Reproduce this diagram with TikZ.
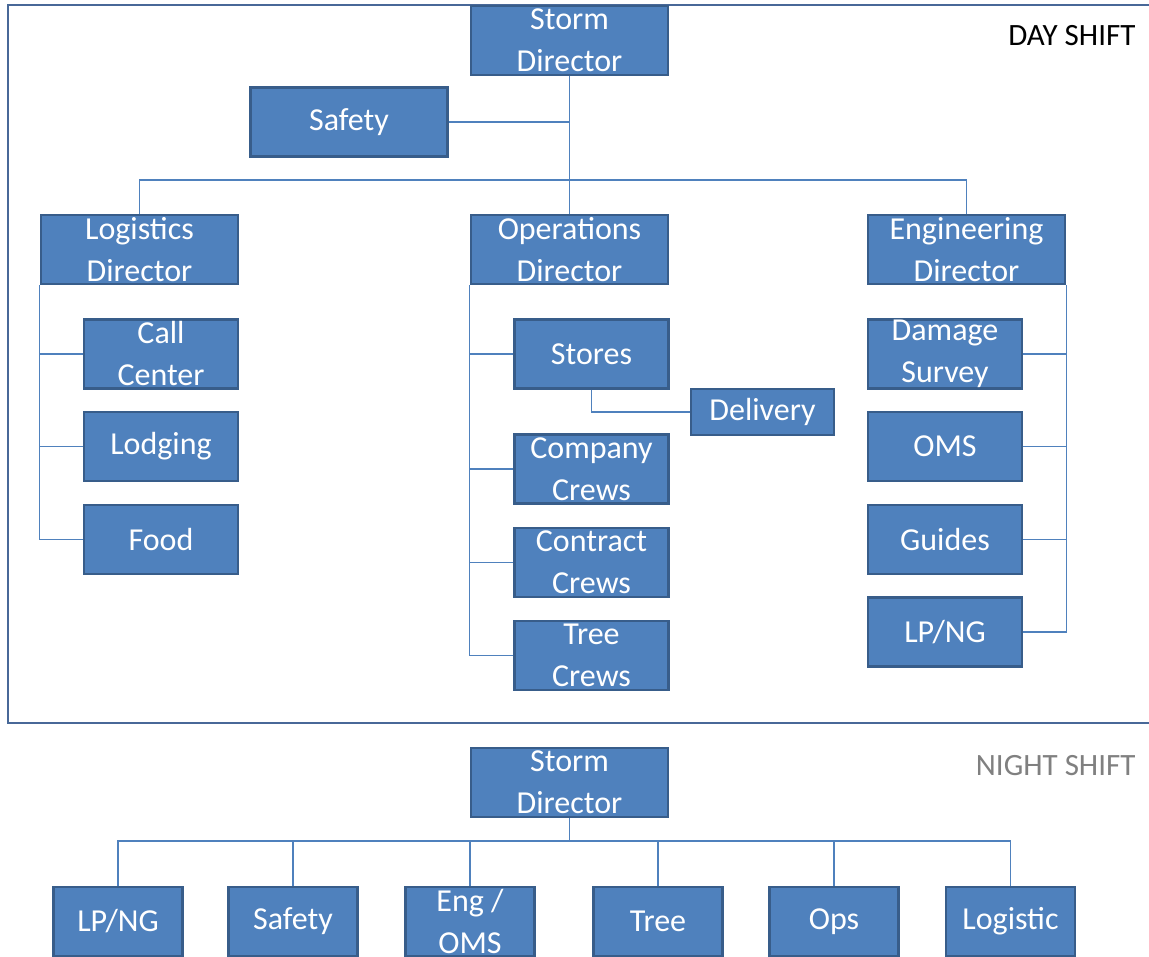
\documentclass[tikz,border=0pt]{standalone}
\usepackage{fontspec}
\setmainfont{Carlito}
\definecolor{boxfill}{RGB}{79,129,189}
\definecolor{boxline}{RGB}{56,93,138}
\definecolor{framecol}{RGB}{72,104,152}
\tikzstyle{role} = [rectangle, draw=boxline, line width=2.5pt, fill=boxfill, text=white, align=center, inner sep=0pt, font=\fontsize{32}{42}\selectfont]
\tikzstyle{dirbox} = [role, minimum width=197pt, minimum height=69pt]
\tikzstyle{unitbox} = [role, minimum width=154pt, minimum height=69pt]
\tikzstyle{nightbox} = [role, minimum width=129pt, minimum height=69pt]
\tikzstyle{link} = [draw=boxfill, line width=1.2pt]
\tikzstyle{shiftlabel} = [anchor=east, font=\fontsize{31}{36}\selectfont]

\begin{document}
\begin{tikzpicture}[x=1pt, y=-1pt]
\clip (0,0) rectangle (1149,957);

% Day shift frame
\draw[framecol, line width=2pt] (8,5) rectangle (1175,723);
\node[shiftlabel] (dayshift) at (1139,36) {DAY SHIFT};

% Top of the day shift
\node[dirbox] (storm) at (569.5,40.5) {Storm\\Director};
\node[dirbox] (safety) at (349,122) {Safety};
\node[dirbox] (logi) at (139.5,249.5) {Logistics\\Director};
\node[dirbox] (ops) at (569.5,249.5) {Operations\\Director};
\node[dirbox] (eng) at (966.5,249.5) {Engineering\\Director};
\coordinate (bus) at (569.5,180);
\draw[link] (storm) -- (ops);
\draw[link] (safety.east) -- (safety.east -| storm.south);
\draw[link] (logi.north) |- (bus) -| (eng.north);

% Logistics
\node[unitbox] (call) at (161,354) {Call\\Center};
\node[unitbox] (lodging) at (161,446.5) {Lodging};
\node[unitbox] (food) at (161,539.5) {Food};
\foreach \n in {call, lodging, food}
  \draw[link] (logi.south west) |- (\n.west);

% Operations
\node[unitbox] (stores) at (591.5,354) {Stores};
\node[role, minimum width=143pt, minimum height=46pt] (delivery) at (762.5,412) {Delivery};
\node[unitbox] (company) at (591.5,469) {Company\\Crews};
\node[unitbox] (contract) at (591.5,562.5) {Contract\\Crews};
\node[unitbox] (tree) at (591.5,655.5) {Tree\\Crews};
\foreach \n in {stores, company, contract, tree}
  \draw[link] (ops.south west) |- (\n.west);
\draw[link] (stores.south) |- (delivery.west);

% Engineering
\node[unitbox] (damage) at (945,354) {Damage\\Survey};
\node[unitbox] (oms) at (945,446.5) {OMS};
\node[unitbox] (guides) at (945,539.5) {Guides};
\node[unitbox] (lpng) at (945,632) {LP/NG};
\foreach \n in {damage, oms, guides, lpng}
  \draw[link] (eng.south east) |- (\n.east);

% Night shift
\node[shiftlabel, text=black!50] (nightshift) at (1139,766) {NIGHT SHIFT};
\node[dirbox] (nstorm) at (569.5,782.5) {Storm\\Director};
\coordinate (nbus) at (569.5,841);
\draw[link] (nstorm) -- (nbus);
\node[nightbox] (nlpng) at (118,921.5) {LP/NG};
\node[nightbox] (nsafety) at (293,921.5) {Safety};
\node[nightbox] (neng) at (470,921.5) {Eng /\\OMS};
\node[nightbox] (ntree) at (658,921.5) {Tree};
\node[nightbox] (nops) at (834,921.5) {Ops};
\node[nightbox] (nlog) at (1010.5,921.5) {Logistic};
\foreach \n in {nlpng, nsafety, neng, ntree, nops, nlog}
  \draw[link] (nbus) -| (\n.north);

\end{tikzpicture}
\end{document}
